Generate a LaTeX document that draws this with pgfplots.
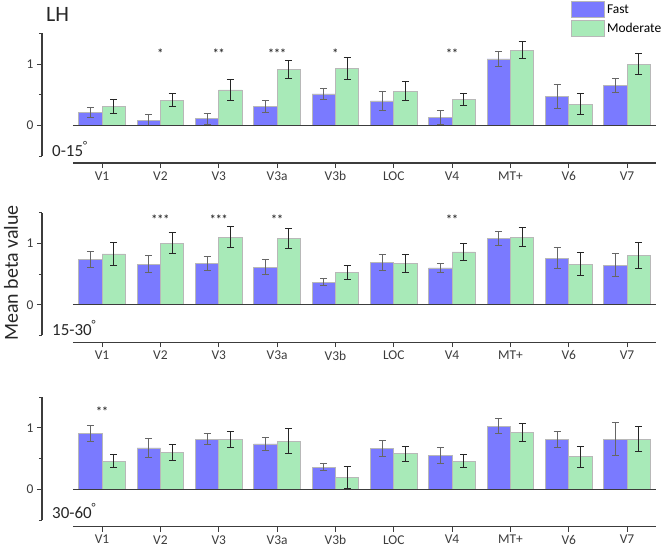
\documentclass[border=0pt]{standalone}
\usepackage{fontspec}
\setmainfont{Carlito}
\usepackage{pgfplots}
\pgfplotsset{compat=1.18}

\definecolor{fastblue}{RGB}{122,122,255}
\definecolor{modgreen}{RGB}{168,234,184}
\definecolor{axisgray}{RGB}{60,60,60}

% bars are placed at category -0.2 (Fast) and +0.2 (Moderate)
\pgfplotsset{
  panel/.style={
    scale only axis, x=58.33bp, y=61.4bp,
    xmin=-1.03, xmax=9.5, ymin=-0.61, ymax=1.5,
    axis x line*=bottom, axis y line*=left,
    axis line style={draw=none},
    clip=false,
    xtick={0,...,9},
    xticklabels={V1,V2,V3,V3a,V3b,LOC,V4,MT+,V6,V7},
    ytick={0,1}, minor ytick={-0.5,0.5,1.5},
    tick align=outside,
    major tick length=5bp, minor tick length=3bp,
    tick style={axisgray, line width=1bp},
    ticklabel style={font=\fontsize{13.5}{16}\selectfont, text=axisgray},
    /pgf/number format/assume math mode=true,
    bar width=0.4,
  },
  fastbar/.style={ybar, bar shift=0, fill=fastblue, draw=black!28, line width=0.8bp,
    legend image code/.code={\draw[fill=fastblue, draw=black!28, line width=0.8bp] (0bp,-8bp) rectangle (33bp,8bp);},
    error bars/.cd, y dir=both, y explicit,
    error bar style={black!60, line width=1bp},
    error mark options={rotate=90, mark size=3.5bp, black!60, line width=1bp}},
  modbar/.style={ybar, bar shift=0, fill=modgreen, draw=black!28, line width=0.8bp,
    legend image code/.code={\draw[fill=modgreen, draw=black!28, line width=0.8bp] (0bp,-8bp) rectangle (33bp,8bp);},
    error bars/.cd, y dir=both, y explicit,
    error bar style={black!85, line width=1bp},
    error mark options={rotate=90, mark size=3.5bp, black!85, line width=1bp}},
  stars/.style={draw=none, nodes near coords, point meta=explicit symbolic,
    nodes near coords style={anchor=center, font=\bfseries\fontsize{12}{12}\selectfont, text=black!80}},
}

\newcommand{\axislines}{%
  \draw[axisgray, line width=1.2bp] (axis cs:-0.5,-0.61) -- (axis cs:9.5,-0.61);
  \draw[axisgray, line width=1.2bp] (axis cs:-1.03,-0.5) -- (axis cs:-1.03,1.5);
  \draw[axisgray, line width=1.4bp] (axis cs:-0.5,0) -- (axis cs:9.5,0);
}

\begin{document}
\begin{tikzpicture}
\useasboundingbox (0,0) rectangle (666bp,-549bp);

% 0-15 deg
\begin{axis}[panel, at={(42bp,-163bp)}, anchor=south west,
    legend style={at={(axis cs:8.04,2.03)}, anchor=north west, draw=none, fill=none,
      inner sep=0pt, row sep=2bp, font=\fontsize{13.5}{16}\selectfont,
      /tikz/every even column/.append style={column sep=3bp}},
    legend cell align=left]
\addplot[fastbar] coordinates {
  (-0.2,0.21) +- (0,0.08)   (0.8,0.09) +- (0,0.095)  (1.8,0.11) +- (0,0.09)
  (2.8,0.31) +- (0,0.095)   (3.8,0.515) +- (0,0.095) (4.8,0.40) +- (0,0.155)
  (5.8,0.125) +- (0,0.115)  (6.8,1.085) +- (0,0.125) (7.8,0.47) +- (0,0.195)
  (8.8,0.655) +- (0,0.115)
};
\addplot[modbar] coordinates {
  (0.2,0.31) +- (0,0.12)    (1.2,0.415) +- (0,0.105) (2.2,0.58) +- (0,0.17)
  (3.2,0.915) +- (0,0.15)   (4.2,0.93) +- (0,0.18)   (5.2,0.557) +- (0,0.155)
  (6.2,0.43) +- (0,0.10)    (7.2,1.227) +- (0,0.14)  (8.2,0.347) +- (0,0.17)
  (9.2,1.0) +- (0,0.167)
};
\addplot[stars] coordinates {(1,1.17) [*] (2,1.17) [**] (3,1.17) [***] (4,1.17) [*] (6,1.17) [**]};
\legend{Fast,Moderate}
\axislines
\end{axis}

% 15-30 deg
\begin{axis}[panel, at={(42bp,-342.2bp)}, anchor=south west]
\addplot[fastbar] coordinates {
  (-0.2,0.74) +- (0,0.135)  (0.8,0.66) +- (0,0.14)   (1.8,0.67) +- (0,0.11)
  (2.8,0.61) +- (0,0.12)    (3.8,0.37) +- (0,0.05)   (4.8,0.69) +- (0,0.13)
  (5.8,0.60) +- (0,0.075)   (6.8,1.077) +- (0,0.12)  (7.8,0.76) +- (0,0.165)
  (8.8,0.647) +- (0,0.19)
};
\addplot[modbar] coordinates {
  (0.2,0.827) +- (0,0.18)   (1.2,1.0) +- (0,0.17)    (2.2,1.1) +- (0,0.17)
  (3.2,1.083) +- (0,0.165)  (4.2,0.528) +- (0,0.115) (5.2,0.675) +- (0,0.145)
  (6.2,0.86) +- (0,0.14)    (7.2,1.1) +- (0,0.15)    (8.2,0.66) +- (0,0.185)
  (9.2,0.806) +- (0,0.21)
};
\addplot[stars] coordinates {(1,1.40) [***] (2,1.40) [***] (3,1.40) [**] (6,1.40) [**]};
\axislines
\end{axis}

% 30-60 deg
\begin{axis}[panel, at={(42bp,-526.8bp)}, anchor=south west]
\addplot[fastbar] coordinates {
  (-0.2,0.913) +- (0,0.133) (0.8,0.674) +- (0,0.15)  (1.8,0.82) +- (0,0.09)
  (2.8,0.74) +- (0,0.11)    (3.8,0.364) +- (0,0.05)  (4.8,0.668) +- (0,0.13)
  (5.8,0.555) +- (0,0.133)  (6.8,1.027) +- (0,0.122) (7.8,0.81) +- (0,0.133)
  (8.8,0.82) +- (0,0.266)
};
\addplot[modbar] coordinates {
  (0.2,0.46) +- (0,0.10)    (1.2,0.603) +- (0,0.13)  (2.2,0.81) +- (0,0.125)
  (3.2,0.783) +- (0,0.20)   (4.2,0.195) +- (0,0.18)  (5.2,0.58) +- (0,0.125)
  (6.2,0.457) +- (0,0.108)  (7.2,0.93) +- (0,0.144)  (8.2,0.532) +- (0,0.173)
  (9.2,0.82) +- (0,0.207)
};
\addplot[stars] coordinates {(0,1.28) [**]};
\axislines
\end{axis}

\node[anchor=west, font=\fontsize{22}{24}\selectfont, text=black!85, inner sep=0pt] at (46bp,-14bp) {LH};
\node[rotate=90, font=\fontsize{20}{22}\selectfont, text=black!85] at (11bp,-273bp) {Mean beta value};
\node[anchor=base west, font=\fontsize{17}{20}\selectfont, text=black!85, inner sep=0pt] at (52bp,-156bp) {0-15\textsuperscript{°}};
\node[anchor=base west, font=\fontsize{17}{20}\selectfont, text=black!85, inner sep=0pt] at (52bp,-335bp) {15-30\textsuperscript{°}};
\node[anchor=base west, font=\fontsize{17}{20}\selectfont, text=black!85, inner sep=0pt] at (52bp,-518bp) {30-60\textsuperscript{°}};
\end{tikzpicture}
\end{document}
